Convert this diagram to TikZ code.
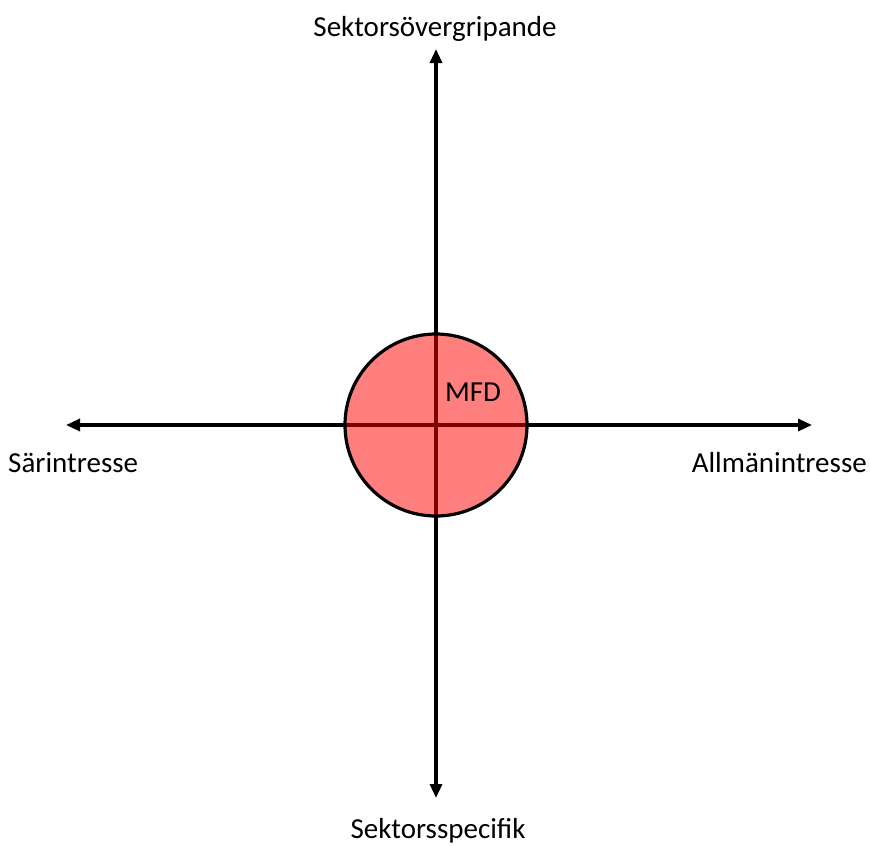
\documentclass[tikz,border=0pt]{standalone}
\usepackage{fontspec}
\setmainfont{Carlito}
\usetikzlibrary{arrows.meta}
\tikzset{
  axis/.style  = {{Triangle[length=14pt,width=12pt]}-{Triangle[length=14pt,width=12pt]}, line width=3.2pt, black},
  blob/.style  = {draw=black, line width=3.2pt, fill=red, fill opacity=0.5, text opacity=1},
  lbl/.style   = {font=\fontsize{29}{34}\selectfont, inner sep=0pt}
}

\begin{document}
\begin{tikzpicture}[x=1pt,y=-1pt]
  \useasboundingbox (0,0) rectangle (870,846);
  \coordinate (c) at (436,425);
  \coordinate (top) at (436,49);
  \coordinate (bot) at (436,798);
  \coordinate (lft) at (66,425);
  \coordinate (rgt) at (812,425);
  \draw[axis] (lft) -- (rgt);
  \draw[axis] (bot) -- (top);
  \draw[blob] (c) circle[radius=91];
  \node[lbl] (mfd) at (473,392) {MFD};
  \node[lbl] (up) at (435,29) {Sektorsövergripande};
  \node[lbl] (down) at (438,831) {Sektorsspecifik};
  \node[lbl, anchor=west] (sar) at (8,463) {Särintresse};
  \node[lbl, anchor=east] (allm) at (867,463) {Allmänintresse};
\end{tikzpicture}
\end{document}
